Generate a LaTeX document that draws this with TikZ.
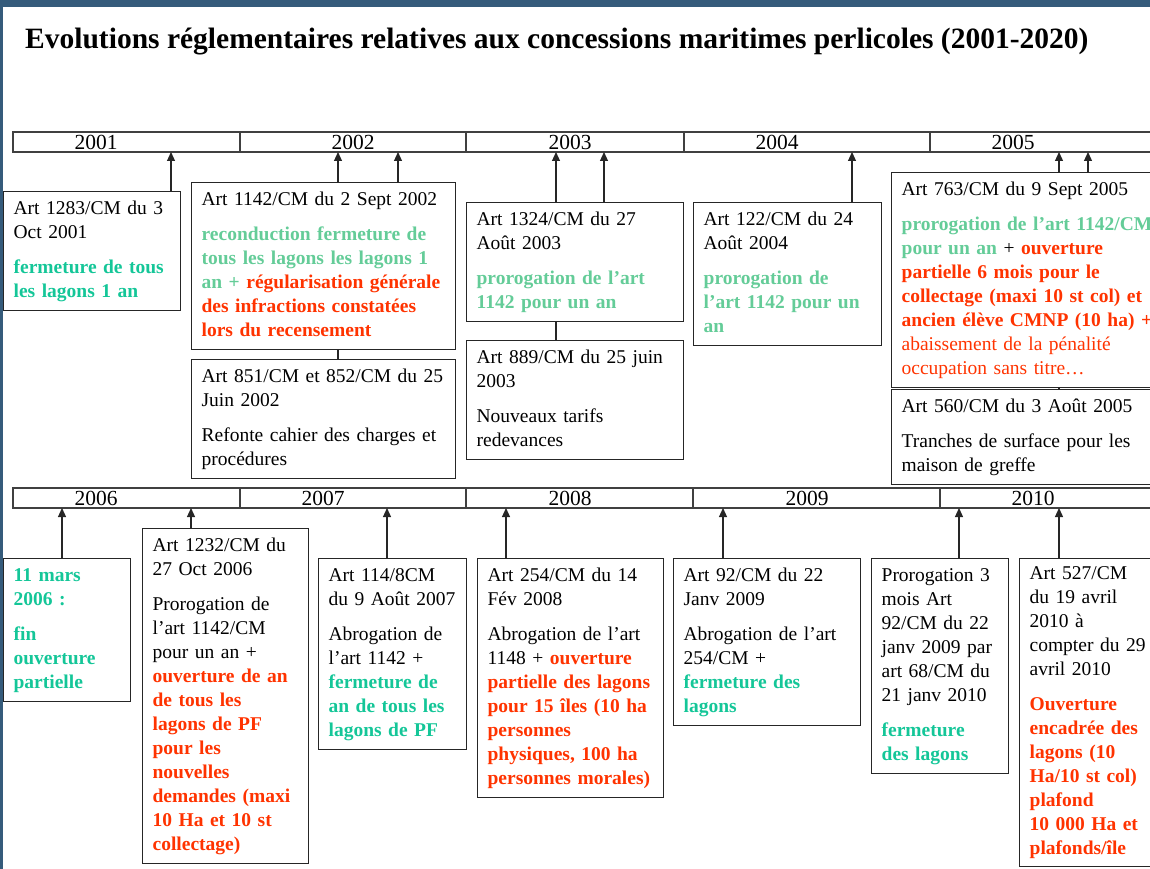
\documentclass[tikz,border=0pt]{standalone}
\usepackage{fontspec}
\setmainfont{Liberation Serif}
\usetikzlibrary{arrows.meta}

\definecolor{bandeau}{RGB}{53,91,123}
\definecolor{vert}{RGB}{20,198,152}
\definecolor{vertclair}{RGB}{100,204,152}
\definecolor{rouge}{RGB}{255,51,0}

\newcommand{\corps}{\fontsize{19.5}{24}\selectfont}
\newcommand{\vt}[1]{\textcolor{vert}{\bfseries #1}}
\newcommand{\vc}[1]{\textcolor{vertclair}{\bfseries #1}}
\newcommand{\rg}[1]{\textcolor{rouge}{\bfseries #1}}
\newcommand{\rn}[1]{\textcolor{rouge}{#1}}
\newcommand{\saut}{\\[11pt]}

\tikzset{
  evt/.style={draw=black!85, line width=1.3pt, anchor=north west, align=left,
    inner xsep=10pt, inner ysep=6pt, font=\corps,
    execute at begin node=\strut, execute at end node=\strut},
  fleche/.style={-{Triangle[length=9pt,width=8pt]}, line width=1.2pt, black!85},
  lien/.style={line width=1.2pt, black!85},
  barre/.style={line width=1.3pt, black!75},
  annee/.style={anchor=base, font=\fontsize{21.5}{24}\selectfont, inner sep=0pt},
}

\begin{document}
\begin{tikzpicture}[x=1pt, y=-1pt]
  \useasboundingbox (0,0) rectangle (1150,869);
  % Frame of the slide
  \fill[bandeau] (0,0) rectangle (1150,7);
  \fill[bandeau] (0,0) rectangle (3,869);
  \node[anchor=base west, inner sep=0pt, font=\fontsize{29.5}{34}\selectfont\bfseries] (titre) at (25,49)
    {Evolutions réglementaires relatives aux concessions maritimes perlicoles (2001-2020)};

  % Upper time bar - 2001 to 2005
  \draw[barre] (13,132) rectangle (1165,152);
  \foreach \x in {240,466,684,930} \draw[barre] (\x,132) -- (\x,152);
  \node[annee] (y2001) at (96,150) {2001};
  \node[annee] (y2002) at (353,150) {2002};
  \node[annee] (y2003) at (570,150) {2003};
  \node[annee] (y2004) at (777,150) {2004};
  \node[annee] (y2005) at (1013,150) {2005};

  % Lower time bar - 2006 to 2010
  \draw[barre] (13,488) rectangle (1165,508);
  \foreach \x in {240,466,693,940} \draw[barre] (\x,488) -- (\x,508);
  \node[annee] (y2006) at (96,505) {2006};
  \node[annee] (y2007) at (323,505) {2007};
  \node[annee] (y2008) at (570,505) {2008};
  \node[annee] (y2009) at (807,505) {2009};
  \node[annee] (y2010) at (1033,505) {2010};

  % Dates on the bars
  \coordinate (a01) at (171,152);
  \coordinate (a02a) at (338,152);
  \coordinate (a02b) at (398,152);
  \coordinate (a04a) at (556,152);
  \coordinate (a04b) at (604,152);
  \coordinate (a06) at (852,152);
  \coordinate (a07a) at (1059,152);
  \coordinate (a07b) at (1088,152);
  \coordinate (a09) at (62,508);
  \coordinate (a10) at (191,508);
  \coordinate (a11) at (387,508);
  \coordinate (a12) at (506,508);
  \coordinate (a13) at (723,508);
  \coordinate (a14) at (959,508);
  \coordinate (a15) at (1059,508);

  % Upper row of texts
  \node[evt, text width=157pt] (b01) at (3,191)
    {Art 1283/CM du 3\\Oct 2001\saut\vt{fermeture de tous\\les lagons 1 an}};
  \node[evt, text width=244pt] (b02) at (191,182)
    {Art 1142/CM du 2 Sept 2002\saut\vc{reconduction fermeture de\\tous les lagons les lagons 1\\an +} \rg{régularisation générale\\des infractions constatées\\lors du recensement}};
  \node[evt, text width=244pt] (b03) at (191,359)
    {Art 851/CM et 852/CM du 25\\Juin 2002\saut Refonte cahier des charges et\\procédures};
  \node[evt, text width=197pt] (b04) at (466,202)
    {Art 1324/CM du 27\\Août 2003\saut\vc{prorogation de l’art\\1142 pour un an}};
  \node[evt, text width=197pt] (b05) at (466,340)
    {Art 889/CM du 25 juin\\2003\saut Nouveaux tarifs\\redevances};
  \node[evt, text width=168pt] (b06) at (693,202)
    {Art 122/CM du 24\\Août 2004\saut\vc{prorogation de\\l’art 1142 pour un\\an}};
  \node[evt, text width=254pt] (b07) at (891,172)
    {Art 763/CM du 9 Sept 2005\saut\vc{prorogation de l’art 1142/CM\\pour un an} + \rg{ouverture\\partielle 6 mois pour le\\collectage (maxi 10 st col) et\\ancien élève CMNP (10 ha) +}\\\rn{abaissement de la pénalité\\occupation sans titre…}};
  \node[evt, text width=254pt] (b08) at (891,389)
    {Art 560/CM du 3 Août 2005\saut Tranches de surface pour les\\maison de greffe};

  % Lower row of texts
  \node[evt, text width=107pt] (b09) at (3,558)
    {\vt{11 mars\\2006 :}\saut\vt{fin\\ouverture\\partielle}};
  \node[evt, text width=146pt] (b10) at (142,528)
    {Art 1232/CM du\\27 Oct 2006\saut Prorogation de\\l’art 1142/CM\\pour un an +\\\rg{ouverture de an\\de tous les\\lagons de PF\\pour les\\nouvelles\\demandes (maxi\\10 Ha et 10 st\\collectage)}};
  \node[evt, text width=128pt] (b11) at (318,558)
    {Art 114/8CM\\du 9 Août 2007\saut Abrogation de\\l’art 1142 +\\\vt{fermeture de\\an de tous les\\lagons de PF}};
  \node[evt, text width=166pt] (b12) at (477,558)
    {Art 254/CM du 14\\Fév 2008\saut Abrogation de l’art\\1148 + \rg{ouverture\\partielle des lagons\\pour 15 îles (10 ha\\personnes\\physiques, 100 ha\\personnes morales)}};
  \node[evt, text width=167pt] (b13) at (673,558)
    {Art 92/CM du 22\\Janv 2009\saut Abrogation de l’art\\254/CM +\\\vt{fermeture des\\lagons}};
  \node[evt, text width=117pt] (b14) at (871,558)
    {Prorogation 3\\mois Art\\92/CM du 22\\janv 2009 par\\art 68/CM du\\21 janv 2010\saut\vt{fermeture\\des lagons}};
  \node[evt, text width=125pt, inner ysep=4.5pt] (b15) at (1019,558)
    {Art 527/CM\\du 19 avril\\2010 à\\compter du 29\\avril 2010\saut\rg{Ouverture\\encadrée des\\lagons (10\\Ha/10 st col)\\plafond\\10 000 Ha et\\plafonds/île}};

  % Arrows up to the bars
  \draw[fleche] (a01 |- b01.north) -- (a01);
  \draw[fleche] (a02a |- b02.north) -- (a02a);
  \draw[fleche] (a02b |- b02.north) -- (a02b);
  \draw[fleche] (a04a |- b04.north) -- (a04a);
  \draw[fleche] (a04b |- b04.north) -- (a04b);
  \draw[fleche] (a06 |- b06.north) -- (a06);
  \draw[fleche] (a07a |- b07.north) -- (a07a);
  \draw[fleche] (a07b |- b07.north) -- (a07b);
  \draw[fleche] (a09 |- b09.north) -- (a09);
  \draw[fleche] (a10 |- b10.north) -- (a10);
  \draw[fleche] (a11 |- b11.north) -- (a11);
  \draw[fleche] (a12 |- b12.north) -- (a12);
  \draw[fleche] (a13 |- b13.north) -- (a13);
  \draw[fleche] (a14 |- b14.north) -- (a14);
  \draw[fleche] (a15 |- b15.north) -- (a15);

  % Links between stacked boxes
  \draw[lien] (a02a |- b02.south) -- (a02a |- b03.north);
  \draw[lien] (a04a |- b04.south) -- (a04a |- b05.north);
  \draw[lien] (a07a |- b07.south) -- (a07a |- b08.north);
\end{tikzpicture}
\end{document}
